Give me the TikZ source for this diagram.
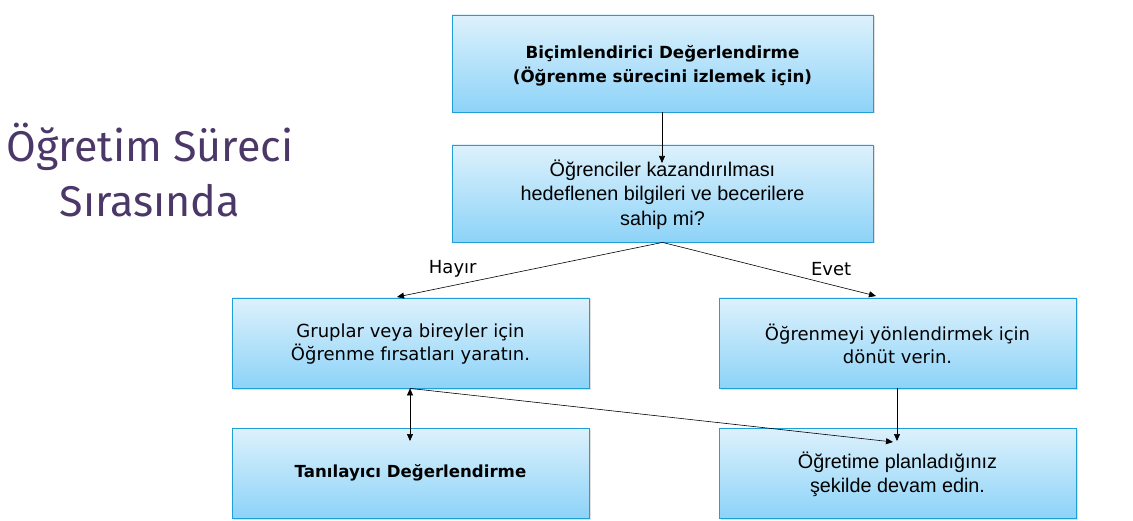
\documentclass[tikz,border=0pt]{standalone}
\usepackage{fontspec}
\setmainfont{Liberation Sans}
\newfontfamily\tahoma{DejaVu Sans}
\newfontfamily\titlefont{Fira Sans}
\usetikzlibrary{arrows.meta,shadows}
\definecolor{boxborder}{HTML}{1E9FD8}
\definecolor{boxtop}{HTML}{DDF1FC}
\definecolor{boxbot}{HTML}{8DD3F8}
\definecolor{titlecol}{HTML}{4B3869}
\tikzset{
  box/.style={draw=boxborder, line width=0.8pt, top color=boxtop, bottom color=boxbot,
    minimum width=#1, align=center, inner sep=0pt,
    drop shadow={shadow xshift=1.5pt, shadow yshift=-1.5pt, opacity=0.25}},
  conn/.style={-{Triangle[length=7pt,width=6pt]}, line width=0.6pt},
  lbl/.style={font=\tahoma\fontsize{18}{20}\selectfont}
}
\begin{document}
\begin{tikzpicture}[x=1pt,y=-1pt]
\useasboundingbox (0,0) rectangle (1133,521);
% title
\node[text=titlecol, font=\titlefont\fontsize{43}{55}\selectfont, align=center] (title) at (150,170) {Öğretim Süreci\\Sırasında};
% boxes
\node[box=421pt, minimum height=97pt] (top) at (662.5,63.5) {};
\node[font=\tahoma\bfseries\fontsize{16.7}{24.5}\selectfont, align=center] (topt) at (662.5,66) {Biçimlendirici Değerlendirme\\(Öğrenme sürecini izlemek için)};
\node[box=421pt, minimum height=97pt] (q) at (662.5,193.5) {};
\node[font=\fontsize{19.8}{24.5}\selectfont, align=center] (qt) at (662.5,194.5) {Öğrenciler kazandırılması\\hedeflenen bilgileri ve becerilere\\sahip mi?};
\node[box=357pt, minimum height=90pt] (lm) at (410.5,343) {};
\node[font=\tahoma\fontsize{18}{23.5}\selectfont, align=center] (lmt) at (410.5,344) {Gruplar veya bireyler için\\Öğrenme fırsatları yaratın.};
\node[box=357pt, minimum height=90pt] (rm) at (897.5,343) {};
\node[font=\tahoma\fontsize{18}{23.5}\selectfont, align=center] (rmt) at (897.5,344) {Öğrenmeyi yönlendirmek için\\dönüt verin.};
\node[box=357pt, minimum height=90pt] (lb) at (410.5,473) {};
\node[font=\tahoma\bfseries\fontsize{16.6}{24}\selectfont] (lbt) at (410.5,473) {Tanılayıcı Değerlendirme};
\node[box=357pt, minimum height=90pt] (rb) at (897.5,473) {};
\node[font=\fontsize{19.8}{24.5}\selectfont, align=center] (rbt) at (897.5,474.5) {Öğretime planladığınız\\şekilde devam edin.};
% connector end points
\coordinate (qin) at (662,163);
\coordinate (lmin) at (397,297);
\coordinate (rmin) at (876,296);
\coordinate (lbin) at (410,441);
\coordinate (rbin) at (893,442);
\coordinate (rbin2) at (897,441);
\draw[conn] (top.south -| qin) -- (qin);
\draw[conn] (q.south) -- (lmin) node[pos=0.79, above=5pt, lbl] (hayir) {Hayır};
\draw[conn] (q.south) -- (rmin) node[pos=0.79, above=5pt, lbl] (evet) {Evet};
\draw[conn, {Triangle[length=7pt,width=6pt]}-{Triangle[length=7pt,width=6pt]}] (lm.south -| lbin) -- (lbin);
\draw[conn] (lm.south -| lbin) -- (rbin);
\draw[conn] (rm.south -| rbin2) -- (rbin2);
\end{tikzpicture}
\end{document}
